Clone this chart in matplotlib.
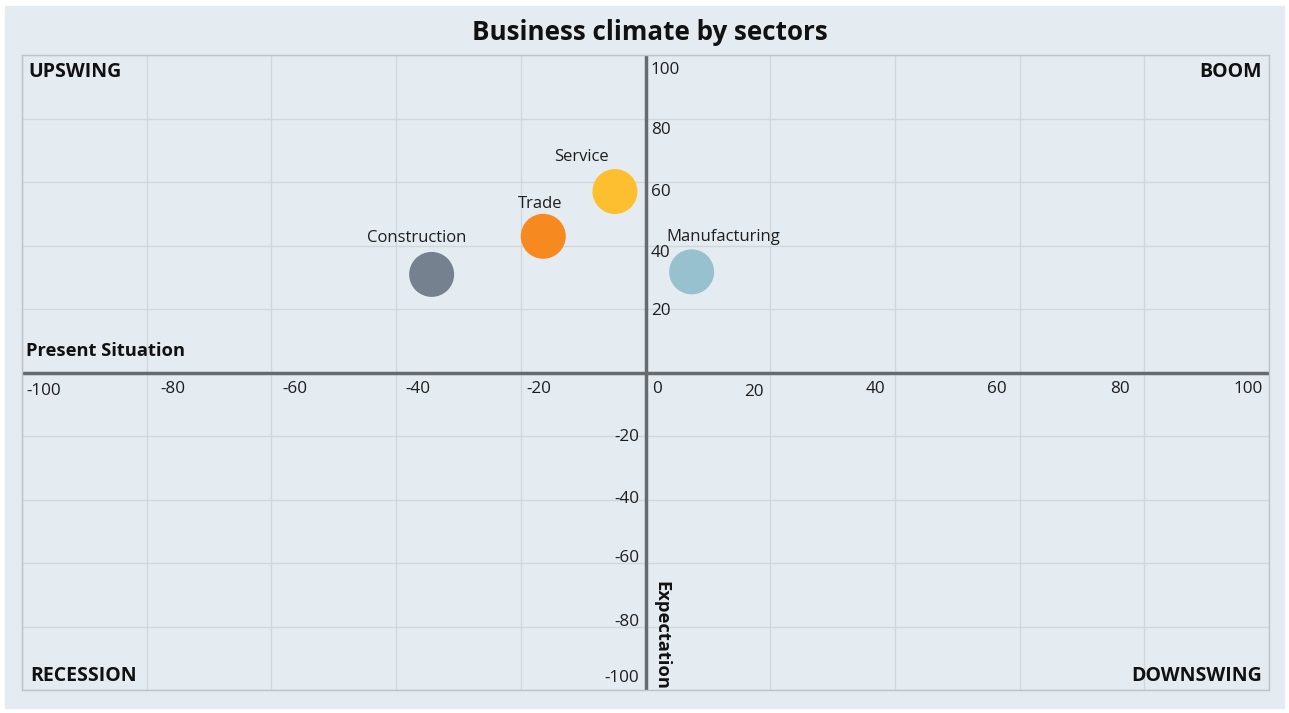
import matplotlib
matplotlib.use("Agg")
import matplotlib.pyplot as plt
from matplotlib.patches import Rectangle

plt.rcParams['font.family'] = ['Open Sans', 'DejaVu Sans']

# Sector positions: present situation (x) vs expectation (y)
sectors = ["Construction", "Trade", "Service", "Manufacturing"]
present = [-34.3, -16.4, -4.9, 7.4]
expectation = [30.9, 42.9, 57.0, 31.7]
colors = ["#75818e", "#f6891f", "#fdbf30", "#98c1cf"]

ticks = [-100, -80, -60, -40, -20, 0, 20, 40, 60, 80, 100]
y_ticks_pos = [20, 40, 60, 80, 100]
y_ticks_neg = [-20, -40, -60, -80, -100]

# label placement (pixel offsets from the anchor value)
x_label_shift = {-100: 4.7, -80: 13.3, -60: 10.6, -40: 8.9, -20: 5.9, 0: 6.2,
                 20: -6.9, 40: -9.9, 60: -12.9, 80: -14.3, 100: -6.0}
x_label_drop = {-100: 18.5, 20: 19.0}
y_label_drop = {100: 14.8, 80: 11.8, 60: 9.5, 40: 7.7, 20: 1.8,
                -20: 1.2, -40: -0.3, -60: -4.5, -80: -5.0, -100: -12.5}
name_offsets = {"Construction": (-15, 36), "Trade": (-3, 32),
                "Service": (-34, 34.5), "Manufacturing": (31.5, 34.5)}

W, H, DPI = 1289, 713, 100
fig = plt.figure(figsize=(W / DPI, H / DPI), dpi=DPI, facecolor="white")
bg = "#e4ecf2"
fig.add_artist(Rectangle((5 / W, 5 / H), 1279 / W, 702 / H,
                         transform=fig.transFigure, color=bg, zorder=-10))

ax = fig.add_axes([22 / W, 23 / H, 1247 / W, 635 / H])
ax.set_facecolor(bg)
ax.set_xlim(-100, 100)
ax.set_ylim(-100, 100)
for s in ax.spines.values():
    s.set_color("#bfc3c6")
    s.set_linewidth(1)
ax.set_xticks(ticks)
ax.set_yticks(ticks)
ax.tick_params(length=0, labelbottom=False, labelleft=False)
ax.grid(True, color="#d2d7da", linewidth=1)
ax.set_axisbelow(True)

ax.axhline(0, color="#686b6e", linewidth=2.5, zorder=2)
ax.axvline(0, color="#686b6e", linewidth=2.5, zorder=2)

ax.scatter(present, expectation, s=1050, c=colors, linewidths=0, zorder=3)

text_c = "#1e1e1e"
for name, x, y in zip(sectors, present, expectation):
    dx, dy = name_offsets[name]
    ax.annotate(name, (x, y), xytext=(dx, dy), textcoords="offset pixels",
                ha="center", va="center", fontsize=12, color=text_c, zorder=4)

tfs = 12.3
# x-axis tick labels just under the horizontal axis
for t in ticks:
    ha = "left" if t <= 0 else "right"
    ax.annotate(str(t), (t, 0), xytext=(x_label_shift[t], -x_label_drop.get(t, 16)),
                textcoords="offset pixels", ha=ha, va="center",
                fontsize=tfs, color=text_c)

# y-axis tick labels beside the vertical axis
for t in y_ticks_pos:
    ax.annotate(str(t), (0, t), xytext=(5.2, -y_label_drop[t]),
                textcoords="offset pixels", ha="left", va="center",
                fontsize=tfs, color=text_c)
for t in y_ticks_neg:
    ax.annotate(str(t), (0, t), xytext=(-6.5, -y_label_drop[t]),
                textcoords="offset pixels", ha="right", va="center",
                fontsize=tfs, color=text_c)

qfs = 14
qc = "#111111"
ax.text(0.005, 0.974, "UPSWING", transform=ax.transAxes, ha="left", va="center",
        fontsize=qfs, fontweight="bold", color=qc)
ax.text(0.9945, 0.974, "BOOM", transform=ax.transAxes, ha="right", va="center",
        fontsize=qfs, fontweight="bold", color=qc)
ax.text(0.007, 0.022, "RECESSION", transform=ax.transAxes, ha="left", va="center",
        fontsize=qfs, fontweight="bold", color=qc)
ax.text(0.9945, 0.022, "DOWNSWING", transform=ax.transAxes, ha="right", va="center",
        fontsize=qfs, fontweight="bold", color=qc)

afs = 13.2
ax.annotate("Present Situation", (-100, 0), xytext=(4, 22), textcoords="offset pixels",
            ha="left", va="center", fontsize=afs, fontweight="bold", color=qc)
ax.annotate("Expectation", (0, -100), xytext=(16, 0.5), textcoords="offset pixels",
            ha="center", va="bottom", rotation=-90, fontsize=afs,
            fontweight="bold", color=qc)

fig.text(650 / W, 1 - 33 / H, "Business climate by sectors", ha="center", va="center",
         fontsize=18.7, fontweight="bold", color=qc)

fig.savefig("out.png", dpi=DPI, facecolor="white")
